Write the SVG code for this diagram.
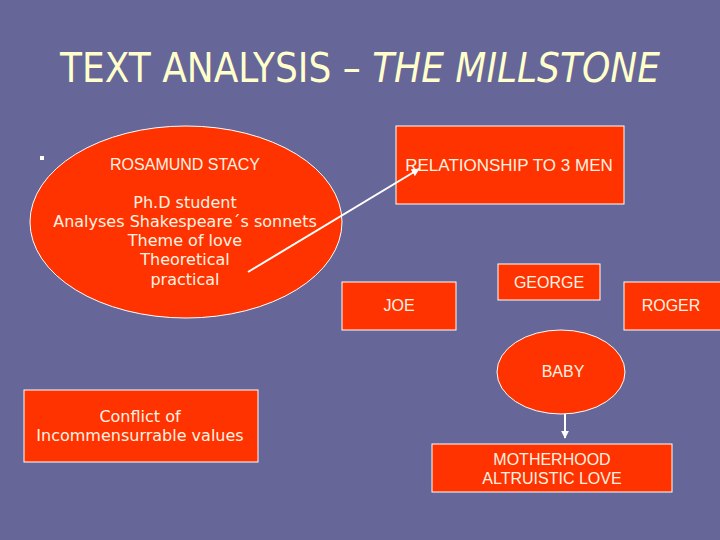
<svg xmlns="http://www.w3.org/2000/svg" width="720" height="540" viewBox="0 0 720 540">
<defs>
<style>
.n{fill:#FF3300;stroke:#FFFFFF;stroke-width:1}
.t{font-family:"Liberation Sans",Arial,sans-serif;font-size:16px;fill:#FFF2E0;text-anchor:middle}
.e{font-family:"DejaVu Sans",Verdana,sans-serif;font-size:16px;fill:#FFF2E0;text-anchor:middle}
.c{stroke:#FFFFFF;stroke-width:2;fill:none}
</style>
<marker id="ah" viewBox="0 0 10 10" refX="9" refY="5" markerWidth="4" markerHeight="4" orient="auto">
<path d="M0,0 L10,5 L0,10 z" fill="#FFFFFF"/>
</marker>
</defs>
<rect width="720" height="540" fill="#666699"/>
<text x="360" y="82" font-family="'DejaVu Sans Condensed','DejaVu Sans',sans-serif" font-size="40" fill="#FFFFCC" text-anchor="middle">TEXT ANALYSIS – <tspan font-style="italic">THE MILLSTONE</tspan></text>
<rect x="40" y="156" width="4" height="4" fill="#FFFFFF"/>
<g id="rosamund">
<ellipse class="n" cx="186" cy="222" rx="156" ry="96"/>
<text class="t" x="185" y="170">ROSAMUND STACY</text>
<text class="e" x="185" y="208">Ph.D student</text>
<text class="e" x="185" y="227">Analyses Shakespeare´s sonnets</text>
<text class="e" x="185" y="246">Theme of love</text>
<text class="e" x="185" y="265">Theoretical</text>
<text class="e" x="185" y="285">practical</text>
</g>
<g id="relationship">
<rect class="n" x="396" y="126" width="228" height="78"/>
<text class="t" x="509" y="171" style="font-size:17px">RELATIONSHIP TO 3 MEN</text>
</g>
<g id="george">
<rect class="n" x="498" y="264" width="102" height="36"/>
<text class="t" x="549" y="288">GEORGE</text>
</g>
<g id="joe">
<rect class="n" x="342" y="282" width="114" height="48"/>
<text class="t" x="399" y="311">JOE</text>
</g>
<g id="roger">
<rect class="n" x="624" y="282" width="100" height="48"/>
<text class="t" x="671" y="311">ROGER</text>
</g>
<g id="baby">
<ellipse class="n" cx="561" cy="372" rx="64" ry="42"/>
<text class="t" x="563" y="377">BABY</text>
</g>
<g id="motherhood">
<rect class="n" x="432" y="444" width="240" height="48"/>
<text class="t" x="552" y="465">MOTHERHOOD</text>
<text class="t" x="552" y="484">ALTRUISTIC LOVE</text>
</g>
<g id="conflict">
<rect class="n" x="24" y="390" width="234" height="72"/>
<text class="e" x="140" y="422">Conflict of</text>
<text class="e" x="140" y="441">Incommensurrable values</text>
</g>
<g id="connectors">
<line class="c" x1="248" y1="272" x2="419" y2="169" marker-end="url(#ah)"/>
<line class="c" x1="565" y1="414" x2="565" y2="438" marker-end="url(#ah)"/>
</g>
</svg>
